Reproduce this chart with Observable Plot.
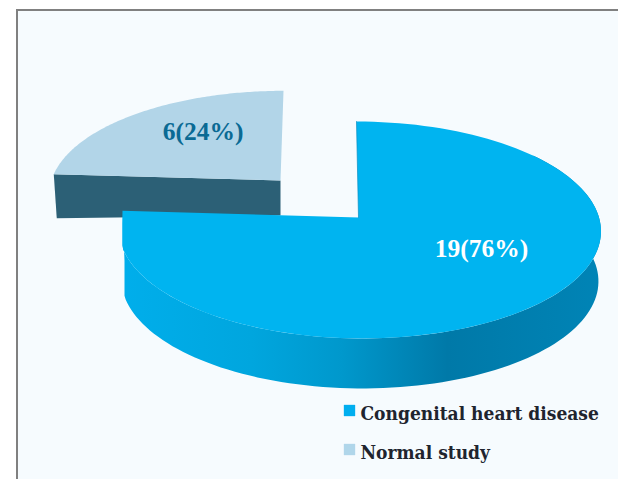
<!DOCTYPE html>
<html>
<head>
<meta charset="utf-8">
<script src="https://cdn.jsdelivr.net/npm/d3@7"></script>
<script src="https://cdn.jsdelivr.net/npm/@observablehq/plot@0.6"></script>
<style>
html,body{margin:0;padding:0;background:#fff;width:618px;height:479px;overflow:hidden}
#frame{position:absolute;left:16px;top:9px;width:602px;height:470px;background:#f6fbfe;border-left:2px solid #808080;border-top:2px solid #808080;box-sizing:border-box}
#chart{position:absolute;left:0;top:0}
#chart svg{background:transparent;display:block}
</style>
</head>
<body>
<div id="frame"></div>
<div id="chart"></div>
<script>
const categories = ["Congenital heart disease", "Normal study"];
const counts = [19, 6];
const percents = [76, 24];
const topColors = ["#00b4f0", "#b2d5e8"];
const legendColors = ["#00aeef", "#b0d6ea"];

const labels = counts.map((c, i) => `${c}(${percents[i]}%)`);
const arcs = d3.pie().sort(null).value(d => d)(counts);
const k = 0.115;

// perspective projection of a unit-disc point (angle clockwise from the top)
function project(t, r, f) {
  const u = r * Math.sin(t), v = r * Math.cos(t), d = 1 + k * v;
  return {
    x: Math.max(f.minX ?? -Infinity, f.cx + f.a * u / d + (f.skew || 0) * v),
    y: f.cy - f.b * v / d + (f.tilt || 0) * u
  };
}
function rim(a0, a1, f, n = 120) {
  return d3.range(n + 1).map(i => project(a0 + (a1 - a0) * i / n, 1, f));
}
function sector(a0, a1, f) {
  return [{x: f.apexX ?? f.cx, y: f.cy}, ...rim(a0, a1, f)];
}

const mainTop = {cx: 359, apexX: 358, cy: 217, a: 239.5, b: 107, skew: -3, minX: 122};
const mainBot = {cx: 359, cy: 267, a: 237, b: 107, skew: -3, minX: 124};
const sideTop = {cx: 280, cy: 180, a: 229, b: 100, skew: 3};
const sideBot = {cx: 280, cy: 215, a: 226, b: 100, skew: 3, tilt: -9};

const [mainArc, sideArc] = arcs;
const wallStart = mainArc.startAngle + 0.9;
const mainWall = [...rim(wallStart, mainArc.endAngle, mainTop),
                  ...rim(wallStart, mainArc.endAngle, mainBot).reverse()];
const sideWall = [project(sideArc.startAngle, 1, sideTop), project(0, 0, sideTop),
                  project(0, 0, sideBot), project(sideArc.startAngle, 1, sideBot)];
const cutEdge = [{x: mainTop.apexX, y: mainTop.cy}, project(mainArc.startAngle, 1, mainTop)];

const poly = (pts, fill) => Plot.line(pts, {x: "x", y: "y", fill, stroke: "none", curve: "linear"});

const gradient = () => {
  const g = d3.create("svg:g");
  const lg = g.append("defs").append("linearGradient")
    .attr("id", "wall").attr("gradientUnits", "userSpaceOnUse")
    .attr("x1", 122).attr("x2", 600).attr("y1", 0).attr("y2", 0);
  [[0, "#00aeeb"], [0.27, "#00a6de"], [0.46, "#0098cc"], [0.68, "#0079a8"], [1, "#0084b6"]]
    .forEach(([o, c]) => lg.append("stop").attr("offset", o).attr("stop-color", c));
  return g.node();
};

const textPos = [{x: 481, y: 248}, {x: 202.5, y: 131}];
const legendY = [410, 449];

const plot = Plot.plot({
  width: 618, height: 479,
  margin: 0,
  x: {domain: [0, 618], range: [0, 618], axis: null},
  y: {domain: [0, 479], range: [0, 479], axis: null},
  marks: [
    gradient,
    poly(sideWall, "#2c6076"),
    poly(sector(sideArc.startAngle, sideArc.endAngle, sideTop), topColors[1]),
    poly(mainWall, "url(#wall)"),
    poly(sector(mainArc.startAngle, mainArc.endAngle, mainTop), topColors[0]),
    Plot.line(cutEdge, {x: "x", y: "y", stroke: "#0a8fc2", strokeWidth: 1, strokeOpacity: 0.7}),
    Plot.text(labels, {
      x: (d, i) => textPos[i].x, y: (d, i) => textPos[i].y, text: d => d,
      fill: (d, i) => ["#ffffff", "#0a6a94"][i],
      fontFamily: "Liberation Serif", fontWeight: "bold", fontSize: 25.5, lineAnchor: "middle"
    }),
    Plot.dot(categories, {
      x: () => 349, y: (d, i) => legendY[i], symbol: "square", r: 6.4,
      fill: (d, i) => legendColors[i], stroke: "none"
    }),
    Plot.text(categories, {
      x: () => 360, y: (d, i) => legendY[i] + 3, text: d => d, textAnchor: "start",
      fill: "#20242e", fontFamily: "DejaVu Serif Condensed, DejaVu Serif", fontWeight: "bold", fontSize: 19, lineAnchor: "middle"
    })
  ]
});
document.getElementById("chart").appendChild(plot);
</script>
</body>
</html>
